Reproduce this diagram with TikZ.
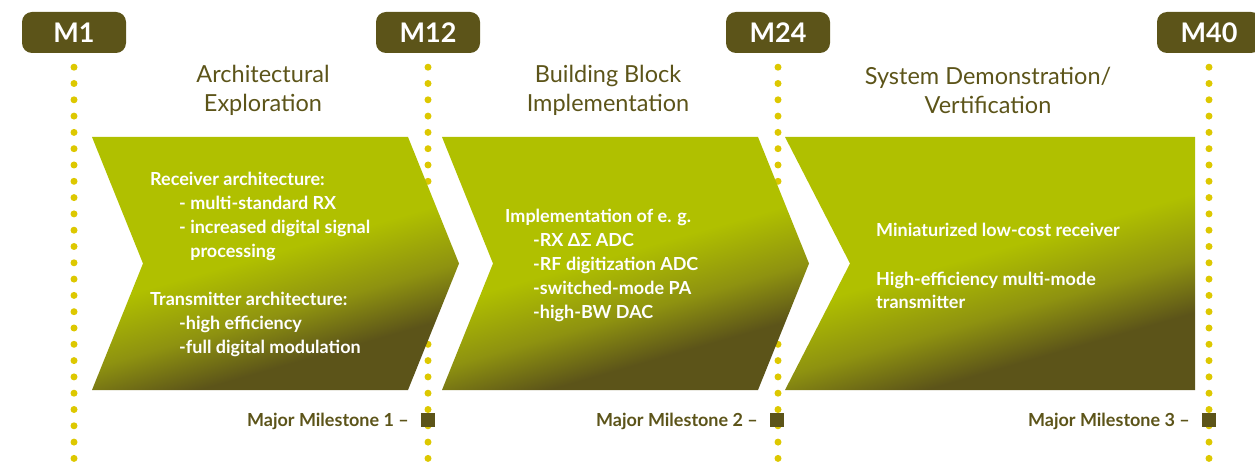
\documentclass[tikz,border=0pt]{standalone}
\usepackage{fontspec}
\setmainfont{Lato}
\definecolor{msDark}{HTML}{5C5419}
\definecolor{dotYellow}{HTML}{DDC800}
\definecolor{chevBright}{HTML}{B0C000}
\definecolor{chevMid}{HTML}{8E9210}
\definecolor{chevDark}{HTML}{5C5419}
% bright at the top, darkening towards the bottom
\pgfdeclareverticalshading{chevshade}{100bp}{color(0bp)=(chevDark); color(32bp)=(chevDark); color(41bp)=(chevMid); color(52bp)=(chevBright); color(100bp)=(chevBright)}
\begin{document}
\begin{tikzpicture}[x=1pt,y=-1pt,
  mbox/.style={fill=msDark,rounded corners=10pt,minimum width=104pt,minimum height=41pt,
    inner sep=0pt,text=white,font=\bfseries\fontsize{27}{27}\selectfont},
  dotline/.style={draw=dotYellow,line width=7pt,line cap=round,dash pattern=on 0pt off 16.3pt},
  chev/.style={shading=chevshade,shading angle=16},
  phase/.style={align=center,text=msDark,font=\fontsize{23.5}{29}\selectfont,inner sep=0pt},
  body/.style={anchor=base west,inner sep=0pt,text=white,font=\bfseries\fontsize{18}{24}\selectfont},
  msq/.style={fill=msDark,minimum size=14pt,inner sep=0pt},
  mslabel/.style={anchor=base east,inner sep=0pt,text=msDark,font=\bfseries\fontsize{18}{20}\selectfont}]
\useasboundingbox (0,0) rectangle (1255,470);
\clip (0,0) rectangle (1255,470);

% milestone tags
\node[mbox] (m1) at (74,32.5) {M1};
\node[mbox] (m12) at (428,32.5) {M12};
\node[mbox] (m24) at (778,32.5) {M24};
\node[mbox] (m40) at (1209,32.5) {M40};

% dotted time lines
\coordinate (bot) at (0,478);
\foreach \m in {m1,m12,m24,m40}
  \draw[dotline] ([yshift=-14pt]\m.south) -- (\m.south |- bot);

% phase chevrons
\shade[chev] (92,137) -- (408,137) -- (459,263.5) -- (408,390) -- (92,390) -- (143,263.5) -- cycle;
\shade[chev] (442,137) -- (758,137) -- (809,263.5) -- (758,390) -- (442,390) -- (493,263.5) -- cycle;
\shade[chev] (785,137) -- (1195,137) -- (1195,390) -- (785,390) -- (850,263.5) -- cycle;

% phase titles
\node[phase] (p1) at (263,90) {Architectural\\Exploration};
\node[phase] (p2) at (608,90) {Building Block\\Implementation};
\node[phase] (p3) at (988,90) {System Demonstration/\\Vertification};

% phase contents
\node[body] (b1) at (150,186) {\parbox[t]{300pt}{\raggedright
  Receiver architecture:\\
  \hspace*{29pt}- multi-standard RX\\
  \hspace*{29pt}- increased digital signal\\
  \hspace*{29pt}\phantom{- }processing\\[24pt]
  Transmitter architecture:\\
  \hspace*{29pt}-high efficiency\\
  \hspace*{29pt}-full digital modulation}};
\node[body] (b2) at (505,223) {\parbox[t]{300pt}{\raggedright
  Implementation of e. g.\\
  \hspace*{28pt}-RX ΔΣ ADC\\
  \hspace*{28pt}-RF digitization ADC\\
  \hspace*{28pt}-switched-mode PA\\
  \hspace*{28pt}-high-BW DAC}};
\node[body] (b3) at (876,237) {\parbox[t]{300pt}{\raggedright
  Miniaturized low-cost receiver\\[24pt]
  High-efficiency multi-mode\\
  transmitter}};

% major milestones
\node[msq] (s1) at (428,420) {};
\node[msq] (s2) at (777,420) {};
\node[msq] (s3) at (1209,420) {};
\node[mslabel] (l1) at (409,426) {Major Milestone 1 –};
\node[mslabel] (l2) at (758,426) {Major Milestone 2 –};
\node[mslabel] (l3) at (1190,426) {Major Milestone 3 –};
\end{tikzpicture}
\end{document}
